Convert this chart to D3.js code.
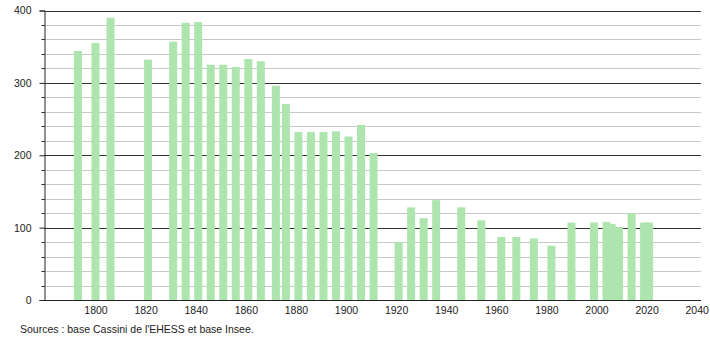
<!DOCTYPE html>
<html>
<head>
<meta charset="utf-8">
<script src="https://cdn.jsdelivr.net/npm/d3@7"></script>
<style>
  body { margin: 0; background: #fff; }
  svg text { font-family: "Liberation Sans", Arial, sans-serif; fill: #222; }
</style>
</head>
<body>
<svg id="chart" width="710" height="340"></svg>
<script>
// census years and population
const years = [1793, 1800, 1806, 1821, 1831, 1836, 1841, 1846, 1851, 1856, 1861, 1866,
  1872, 1876, 1881, 1886, 1891, 1896, 1901, 1906, 1911, 1921, 1926, 1931, 1936,
  1946, 1954, 1962, 1968, 1975, 1982, 1990, 1999, 2004, 2006, 2009, 2014, 2019, 2021];
const population = [344, 355, 390, 332, 357, 383, 384, 325, 325, 322, 333, 330,
  296, 271, 232, 232, 232, 233, 226, 242, 203, 80, 128, 113, 138,
  128, 110, 87, 87, 85, 75, 107, 107, 108, 105, 101, 120, 107, 107];
const xTicks = [1800, 1820, 1840, 1860, 1880, 1900, 1920, 1940, 1960, 1980, 2000, 2020, 2040];
const yTicks = [0, 100, 200, 300, 400];
const sourceText = "Sources : base Cassini de l'EHESS et base Insee.";

const svg = d3.select("#chart");
const plotLeft = 44, plotRight = 701, plotTop = 10.5, plotBottom = 300;

const x = d3.scaleLinear().domain([1780, 2040]).range([45.4, 696.7]);
const y = d3.scaleLinear().domain([0, 400]).range([plotBottom, plotTop]);

// minor grid every 20
const minor = d3.range(20, 400, 20).filter(v => v % 100 !== 0);
svg.append("g").selectAll("line").data(minor).join("line")
  .attr("x1", plotLeft).attr("x2", plotRight)
  .attr("y1", d => Math.round(y(d)) + 0.5).attr("y2", d => Math.round(y(d)) + 0.5)
  .attr("stroke", "#c8c8c8").attr("stroke-width", 1);

// major grid
svg.append("g").selectAll("line").data(yTicks.filter(d => d > 0)).join("line")
  .attr("x1", plotLeft).attr("x2", plotRight)
  .attr("y1", d => Math.round(y(d)) + 0.5).attr("y2", d => Math.round(y(d)) + 0.5)
  .attr("stroke", "#333").attr("stroke-width", 1);

// bars
const barW = 8;
svg.append("g").selectAll("rect").data(years).join("rect")
  .attr("x", d => x(d) - barW / 2)
  .attr("y", (d, i) => y(population[i]))
  .attr("width", barW)
  .attr("height", (d, i) => plotBottom - y(population[i]))
  .attr("fill", "#aee4ae");

// left axis with minor ticks
const yAxis = d3.axisLeft(y).tickValues(yTicks).tickSize(5).tickPadding(8);
const gy = svg.append("g").attr("transform", `translate(${plotLeft + 0.5},0)`).call(yAxis);
gy.select(".domain").attr("stroke", "#222");
gy.selectAll(".tick line").attr("stroke", "#222");
gy.selectAll("text").attr("font-size", 10.5).style("font-family", "Liberation Sans, Arial, sans-serif");
gy.selectAll(".minor").data(minor).join("line").attr("class", "minor")
  .attr("x1", -3).attr("x2", 0)
  .attr("y1", d => Math.round(y(d)) + 0.5).attr("y2", d => Math.round(y(d)) + 0.5)
  .attr("stroke", "#222");

// bottom axis line and labels
svg.append("line")
  .attr("x1", plotLeft).attr("x2", plotRight)
  .attr("y1", plotBottom + 0.5).attr("y2", plotBottom + 0.5)
  .attr("stroke", "#222");

const xAxis = d3.axisBottom(x).tickValues(xTicks).tickFormat(d3.format("d")).tickSize(0).tickPadding(7);
const gx = svg.append("g").attr("transform", `translate(0,${plotBottom})`).call(xAxis);
gx.select(".domain").remove();
gx.selectAll("text").attr("font-size", 10.5).style("font-family", "Liberation Sans, Arial, sans-serif");

svg.append("text")
  .attr("x", 20).attr("y", 333)
  .attr("font-size", 10.5)
  .text(sourceText);
</script>
</body>
</html>
